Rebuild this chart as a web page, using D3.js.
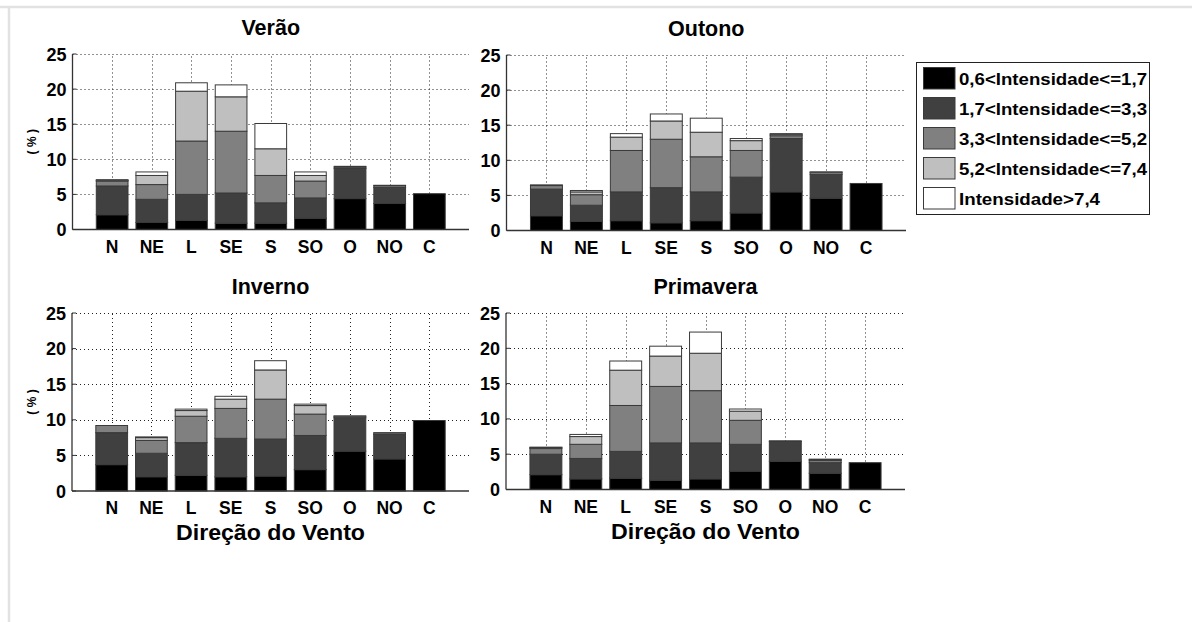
<!DOCTYPE html>
<html>
<head>
<meta charset="utf-8">
<script src="https://cdn.jsdelivr.net/npm/d3@7"></script>
<style>
  html, body { margin: 0; padding: 0; background: #fff; }
  svg { display: block; }
  text { font-family: "Liberation Sans", Arial, sans-serif; fill: #000; }
</style>
</head>
<body>
<svg id="chart" width="1192" height="622"></svg>
<script>
// Direções do vento (C = calmaria)
const categorias = ["N", "NE", "L", "SE", "S", "SO", "O", "NO", "C"];

// Classes de intensidade do vento (m/s)
const classes = [
  "0,6<Intensidade<=1,7",
  "1,7<Intensidade<=3,3",
  "3,3<Intensidade<=5,2",
  "5,2<Intensidade<=7,4",
  "Intensidade>7,4"
];

// Frequência (%) por classe de intensidade; cada linha é uma classe, cada coluna uma direção
const verao = [
  [2.1, 1.0, 1.3, 0.9, 0.9, 1.6, 4.4, 3.7, 5.1],
  [4.1, 3.3, 3.7, 4.3, 2.9, 2.9, 4.3, 2.3, 0],
  [0.7, 2.1, 7.6, 8.8, 3.9, 2.4, 0.2, 0.25, 0],
  [0.1, 1.3, 7.1, 4.9, 3.8, 0.8, 0.1, 0.05, 0],
  [0.1, 0.5, 1.2, 1.7, 3.6, 0.5, 0.0, 0, 0]
];
const outono = [
  [2.1, 1.3, 1.4, 1.1, 1.4, 2.5, 5.5, 4.6, 6.7],
  [3.8, 2.3, 4.1, 5.0, 4.1, 5.1, 7.6, 3.4, 0],
  [0.5, 1.5, 5.9, 6.9, 5.0, 3.8, 0.4, 0.3, 0],
  [0.1, 0.4, 1.9, 2.6, 3.5, 1.4, 0.2, 0.05, 0],
  [0.0, 0.2, 0.5, 1.0, 2.0, 0.3, 0.1, 0, 0]
];
const inverno = [
  [3.7, 2.0, 2.2, 2.0, 2.1, 3.0, 5.6, 4.5, 9.9],
  [4.5, 3.3, 4.6, 5.4, 5.2, 4.8, 4.7, 3.5, 0],
  [1.0, 1.8, 3.7, 4.2, 5.6, 3.0, 0.2, 0.2, 0],
  [0.0, 0.4, 0.8, 1.3, 4.1, 1.2, 0.05, 0, 0],
  [0.0, 0.1, 0.2, 0.4, 1.3, 0.2, 0, 0, 0]
];
const primavera = [
  [2.1, 1.5, 1.6, 1.3, 1.5, 2.6, 4.0, 2.3, 3.8],
  [2.9, 2.9, 3.8, 5.3, 5.1, 3.8, 2.8, 1.5, 0],
  [0.8, 2.0, 6.5, 8.0, 7.4, 3.4, 0.1, 0.3, 0],
  [0.15, 1.1, 5.0, 4.3, 5.3, 1.3, 0, 0.15, 0],
  [0.05, 0.3, 1.3, 1.4, 3.0, 0.3, 0, 0.05, 0]
];

const yTicks = [0, 5, 10, 15, 20, 25];
const cores = ["#000000", "#404040", "#808080", "#bfbfbf", "#ffffff"];

// Painéis (estações) e a área de cada eixo
const paineis = [
  { titulo: "Verão",     dados: verao,     x0: 72.5, x1: 469, yTop: 54,  yBot: 229.5, ylabel: true,  xlabel: false },
  { titulo: "Outono",    dados: outono,    x0: 506.5, x1: 906, yTop: 55, yBot: 230.5, ylabel: false, xlabel: false },
  { titulo: "Inverno",   dados: inverno,   x0: 72,   x1: 469, yTop: 313, yBot: 491,   ylabel: true,  xlabel: true },
  { titulo: "Primavera", dados: primavera, x0: 506,  x1: 905, yTop: 313, yBot: 489.5, ylabel: false, xlabel: true }
];

const svg = d3.select("#chart");

// moldura da figura
svg.append("line").attr("x1", 0).attr("x2", 1192).attr("y1", 7).attr("y2", 7)
  .attr("stroke", "#e2e2e2").attr("stroke-width", 2.5);
svg.append("line").attr("x1", 9).attr("x2", 9).attr("y1", 7).attr("y2", 622)
  .attr("stroke", "#e2e2e2").attr("stroke-width", 2.5);

paineis.forEach(p => {
  const g = svg.append("g");
  // eixo x numérico 0..10 com categorias em 1..9
  const x = d3.scaleLinear().domain([0, 10]).range([p.x0, p.x1]);
  const y = d3.scaleLinear().domain([0, 25]).range([p.yBot, p.yTop]);
  const bw = (x(1) - x(0)) * 0.8;

  // grade pontilhada
  g.selectAll(".gy").data(yTicks.filter(t => t > 0)).join("line")
    .attr("x1", p.x0).attr("x2", p.x1)
    .attr("y1", d => Math.round(y(d)) + 0.5).attr("y2", d => Math.round(y(d)) + 0.5)
    .attr("stroke", "#222").attr("stroke-width", 1).attr("stroke-dasharray", "1,3");
  g.selectAll(".gx").data(categorias).join("line")
    .attr("x1", (d, i) => Math.round(x(i + 1)) + 0.5).attr("x2", (d, i) => Math.round(x(i + 1)) + 0.5)
    .attr("y1", p.yBot).attr("y2", p.yTop)
    .attr("stroke", "#222").attr("stroke-width", 1).attr("stroke-dasharray", "1,3");

  // barras empilhadas
  const linhas = categorias.map((c, j) => {
    const o = { cat: c, idx: j };
    classes.forEach((k, i) => { o[k] = p.dados[i][j]; });
    return o;
  });
  const pilha = d3.stack().keys(classes)(linhas);
  pilha.forEach((serie, i) => {
    g.selectAll(null).data(serie.filter(d => d[1] - d[0] > 0)).join("rect")
      .attr("x", d => x(d.data.idx + 1) - bw / 2)
      .attr("width", bw)
      .attr("y", d => y(d[1]))
      .attr("height", d => y(d[0]) - y(d[1]))
      .attr("fill", cores[i])
      .attr("stroke", "#3a3a3a")
      .attr("stroke-width", 1);
  });

  // eixos
  g.append("line").attr("x1", p.x0).attr("x2", p.x1).attr("y1", p.yBot).attr("y2", p.yBot)
    .attr("stroke", "#333").attr("stroke-width", 1.3);
  g.append("line").attr("x1", p.x0).attr("x2", p.x0).attr("y1", p.yBot).attr("y2", p.yTop)
    .attr("stroke", "#333").attr("stroke-width", 1.3);
  // marcas dos eixos
  g.selectAll(".ty").data(yTicks).join("line")
    .attr("x1", p.x0).attr("x2", p.x0 + 4)
    .attr("y1", d => y(d)).attr("y2", d => y(d))
    .attr("stroke", "#333").attr("stroke-width", 1);

  // rótulos
  g.selectAll(".ly").data(yTicks).join("text")
    .attr("x", p.x0 - 6).attr("y", d => y(d) + 6.5)
    .attr("text-anchor", "end").attr("font-weight", "bold").attr("font-size", 18)
    .text(d => d);
  g.selectAll(".lx").data(categorias).join("text")
    .attr("x", (d, i) => x(i + 1)).attr("y", p.yBot + 23)
    .attr("text-anchor", "middle").attr("font-weight", "bold").attr("font-size", 17.5)
    .text(d => d);
  g.append("text")
    .attr("x", (p.x0 + p.x1) / 2).attr("y", p.yTop - 19)
    .attr("text-anchor", "middle").attr("font-weight", "bold").attr("font-size", 21.5)
    .text(p.titulo);
  if (p.ylabel) {
    g.append("text")
      .attr("transform", `translate(36,${(p.yTop + p.yBot) / 2}) rotate(-90)`)
      .attr("text-anchor", "middle").attr("font-weight", "bold").attr("font-size", 12)
      .text("( % )");
  }
  if (p.xlabel) {
    g.append("text")
      .attr("x", (p.x0 + p.x1) / 2).attr("y", p.yBot + 49)
      .attr("text-anchor", "middle").attr("font-size", 22).attr("font-weight", "bold")
      .attr("textLength", 189).attr("lengthAdjust", "spacingAndGlyphs")
      .text("Direção do Vento");
  }
});

// legenda
const leg = svg.append("g");
leg.append("rect").attr("x", 916.5).attr("y", 62.5).attr("width", 233).attr("height", 152)
  .attr("fill", "#fff").attr("stroke", "#222").attr("stroke-width", 1);
classes.forEach((k, i) => {
  const yy = 67.5 + i * 30;
  leg.append("rect").attr("x", 923.5).attr("y", yy).attr("width", 31.5).attr("height", 21.5)
    .attr("fill", cores[i]).attr("stroke", "#3a3a3a").attr("stroke-width", 1);
  leg.append("text").attr("x", 959).attr("y", yy + 17)
    .attr("font-weight", "bold").attr("font-size", 17)
    .attr("textLength", i < 4 ? 188 : 141).attr("lengthAdjust", "spacingAndGlyphs")
    .text(k);
});
</script>
</body>
</html>
